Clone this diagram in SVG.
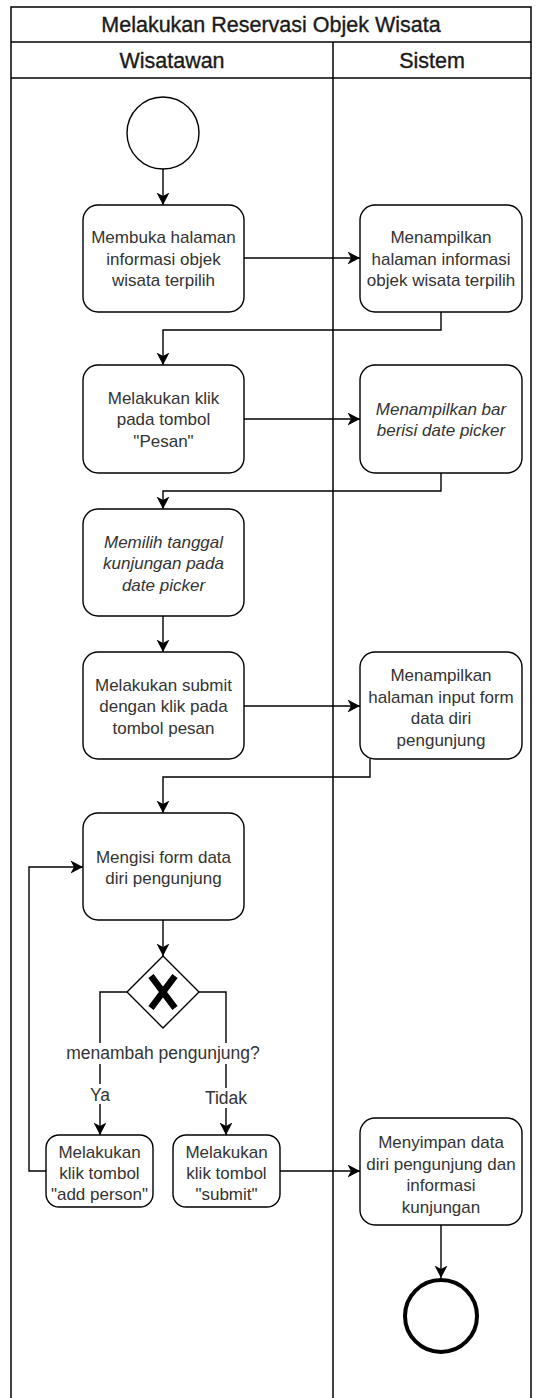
<svg xmlns="http://www.w3.org/2000/svg" width="542" height="1398" viewBox="0 0 542 1398">
  <style>
    .frame { fill: none; stroke: #000; stroke-width: 1.5; }
    .task { fill: #fff; stroke: #000; stroke-width: 1.4; }
    .edge { fill: none; stroke: #000; stroke-width: 1.4; }
    .title { font-family: "Liberation Sans", Arial, sans-serif; font-size: 21.5px; fill: #1a1a1a; text-anchor: middle; stroke: #1a1a1a; stroke-width: 0.35; }
    .lbl { font-family: "Liberation Sans", Arial, sans-serif; font-size: 17px; fill: #333; text-anchor: middle; }
    .it { font-style: italic; }
    .elbl { font-family: "Liberation Sans", Arial, sans-serif; font-size: 17.5px; fill: #333; text-anchor: middle; }
  </style>
  <defs>
    <marker id="arrow" markerUnits="userSpaceOnUse" markerWidth="14" markerHeight="14" refX="12.5" refY="7" orient="auto">
      <path d="M0,0.5 L12.5,7 L0,13.5 L3.5,7 Z" fill="#000"/>
    </marker>
  </defs>

  <rect width="542" height="1398" fill="#fff"/>

  <!-- pool and lanes -->
  <g id="pool">
    <path class="frame" d="M11,1400 V7 H531 V1400"/>
    <line class="frame" x1="11" y1="42" x2="531" y2="42" stroke-width="2"/>
    <line class="frame" x1="11" y1="78" x2="531" y2="78" stroke-width="2"/>
    <line class="frame" x1="333" y1="42" x2="333" y2="1400"/>
    <text class="title" x="271" y="32">Melakukan Reservasi Objek Wisata</text>
    <text class="title" x="172" y="68">Wisatawan</text>
    <text class="title" x="432" y="68">Sistem</text>
  </g>

  <!-- connectors -->
  <g id="connectors">
    <path class="edge" d="M163,169 V205" marker-end="url(#arrow)"/>
    <path class="edge" d="M244,258 H360" marker-end="url(#arrow)"/>
    <path class="edge" d="M441,312 V330 H163 V365" marker-end="url(#arrow)"/>
    <path class="edge" d="M244,419 H360" marker-end="url(#arrow)"/>
    <path class="edge" d="M441,473 V491 H163 V509" marker-end="url(#arrow)"/>
    <path class="edge" d="M163,616 V652" marker-end="url(#arrow)"/>
    <path class="edge" d="M244,706 H360" marker-end="url(#arrow)"/>
    <path class="edge" d="M370,759 V777 H163 V813" marker-end="url(#arrow)"/>
    <path class="edge" d="M163,920 V956" marker-end="url(#arrow)"/>
    <path class="edge" d="M127,992 H100 V1135" marker-end="url(#arrow)"/>
    <path class="edge" d="M199,992 H226 V1135" marker-end="url(#arrow)"/>
    <path class="edge" d="M46,1171 H29 V867 H83" marker-end="url(#arrow)"/>
    <path class="edge" d="M280,1171 H360" marker-end="url(#arrow)"/>
    <path class="edge" d="M441,1225 V1278" marker-end="url(#arrow)"/>
    <!-- edge labels -->
    <rect x="64" y="1043" width="198" height="21" fill="#fff"/>
    <text class="elbl" x="163" y="1059">menambah pengunjung?</text>
    <rect x="89" y="1084" width="22" height="20" fill="#fff"/>
    <text class="elbl" x="100" y="1100.5" font-size="18">Ya</text>
    <rect x="203" y="1088" width="46" height="20" fill="#fff"/>
    <text class="elbl" x="226" y="1104" font-size="18">Tidak</text>
  </g>

  <g id="start">
    <circle cx="163" cy="133" r="36" fill="#fff" stroke="#000" stroke-width="1.4"/>
  </g>

  <g id="buka-halaman">
    <rect class="task" x="83" y="205" width="161" height="107" rx="15"/>
    <text class="lbl"><tspan x="163.5" y="243">Membuka halaman</tspan><tspan x="163.5" y="264.5">informasi objek</tspan><tspan x="163.5" y="286">wisata terpilih</tspan></text>
  </g>

  <g id="tampil-halaman">
    <rect class="task" x="360" y="205" width="162" height="107" rx="15"/>
    <text class="lbl"><tspan x="441" y="243">Menampilkan</tspan><tspan x="441" y="264.5">halaman informasi</tspan><tspan x="441" y="286">objek wisata terpilih</tspan></text>
  </g>

  <g id="klik-pesan">
    <rect class="task" x="83" y="365" width="161" height="108" rx="15"/>
    <text class="lbl"><tspan x="163.5" y="403.5">Melakukan klik</tspan><tspan x="163.5" y="425">pada tombol</tspan><tspan x="163.5" y="446.5">"Pesan"</tspan></text>
  </g>

  <g id="tampil-date-picker">
    <rect class="task" x="360" y="365" width="162" height="108" rx="15"/>
    <text class="lbl it"><tspan x="441" y="414.5">Menampilkan bar</tspan><tspan x="441" y="436">berisi date picker</tspan></text>
  </g>

  <g id="pilih-tanggal">
    <rect class="task" x="83" y="509" width="161" height="107" rx="15"/>
    <text class="lbl it"><tspan x="163.5" y="547.5">Memilih tanggal</tspan><tspan x="163.5" y="569">kunjungan pada</tspan><tspan x="163.5" y="590.5">date picker</tspan></text>
  </g>

  <g id="submit-pesan">
    <rect class="task" x="83" y="652" width="161" height="107" rx="15"/>
    <text class="lbl"><tspan x="163.5" y="690.5">Melakukan submit</tspan><tspan x="163.5" y="712">dengan klik pada</tspan><tspan x="163.5" y="733.5">tombol pesan</tspan></text>
  </g>

  <g id="tampil-form">
    <rect class="task" x="360" y="652" width="162" height="107" rx="15"/>
    <text class="lbl"><tspan x="441" y="681">Menampilkan</tspan><tspan x="441" y="702.5">halaman input form</tspan><tspan x="441" y="724">data diri</tspan><tspan x="441" y="745.5">pengunjung</tspan></text>
  </g>

  <g id="isi-form">
    <rect class="task" x="83" y="813" width="161" height="107" rx="15"/>
    <text class="lbl"><tspan x="163.5" y="862.5">Mengisi form data</tspan><tspan x="163.5" y="884">diri pengunjung</tspan></text>
  </g>

  <g id="gateway">
    <path d="M163,956 L199,992 L163,1028 L127,992 Z" fill="#fff" stroke="#000" stroke-width="1.4"/>
    <path d="M151,976 L175,1008 M175,976 L151,1008" stroke="#000" stroke-width="6.5" fill="none"/>
  </g>

  <g id="add-person">
    <rect class="task" x="46" y="1135" width="107" height="72" rx="13"/>
    <text class="lbl"><tspan x="99.5" y="1157.5">Melakukan</tspan><tspan x="99.5" y="1178.5">klik tombol</tspan><tspan x="99.5" y="1200">"add person"</tspan></text>
  </g>

  <g id="klik-submit">
    <rect class="task" x="173" y="1135" width="107" height="72" rx="13"/>
    <text class="lbl"><tspan x="226.5" y="1157.5">Melakukan</tspan><tspan x="226.5" y="1178.5">klik tombol</tspan><tspan x="226.5" y="1200">"submit"</tspan></text>
  </g>

  <g id="simpan-data">
    <rect class="task" x="360" y="1118" width="162" height="107" rx="15"/>
    <text class="lbl"><tspan x="441" y="1148">Menyimpan data</tspan><tspan x="441" y="1169.5">diri pengunjung dan</tspan><tspan x="441" y="1191">informasi</tspan><tspan x="441" y="1212.5">kunjungan</tspan></text>
  </g>

  <g id="end">
    <circle cx="441" cy="1316" r="36" fill="#fff" stroke="#000" stroke-width="4"/>
  </g>
</svg>
